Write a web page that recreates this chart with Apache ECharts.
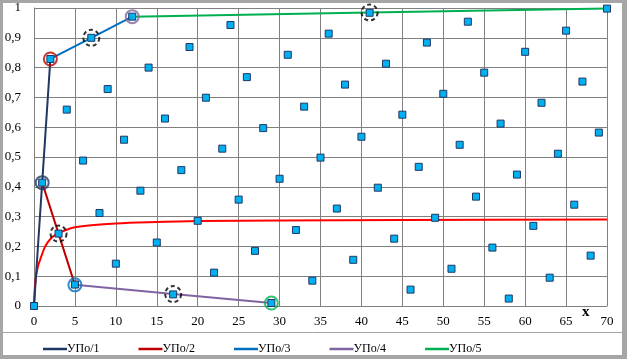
<!DOCTYPE html>
<html>
<head>
<meta charset="utf-8">
<script src="https://cdn.jsdelivr.net/npm/echarts@6/dist/echarts.min.js"></script>
<style>
html,body{margin:0;padding:0;background:#fff;}
#c{width:627px;height:359px;}
</style>
</head>
<body>
<div id="c"></div>
<script>
// Scatter points (x, y)
const pointX = [0,1,2,3,4,5,6,7,8,9,10,11,12,13,14,15,16,17,18,19,20,21,22,23,24,25,26,27,28,29,30,31,32,33,34,35,36,37,38,39,40,41,42,43,44,45,46,47,48,49,50,51,52,53,54,55,56,57,58,59,60,61,62,63,64,65,66,67,68,69,70];
const pointY = [0,0.414,0.829,0.243,0.659,0.072,0.488,0.900,0.312,0.728,0.142,0.558,0.971,0.387,0.800,0.213,0.629,0.039,0.456,0.869,0.286,0.699,0.112,0.528,0.943,0.357,0.768,0.185,0.597,0.010,0.427,0.843,0.255,0.669,0.085,0.498,0.914,0.327,0.743,0.155,0.568,0.984,0.397,0.813,0.226,0.642,0.055,0.467,0.884,0.296,0.712,0.125,0.541,0.954,0.367,0.783,0.196,0.612,0.025,0.441,0.853,0.269,0.682,0.095,0.511,0.924,0.340,0.753,0.169,0.582,0.998];

// Polyline series
const upo1X = [0,1,2],   upo1Y = [0,0.414,0.829];
const upo2X = [1,3,5],   upo2Y = [0.414,0.243,0.071];
const upo3X = [2,7,12],  upo3Y = [0.829,0.900,0.971];
const upo4X = [5,17,29], upo4Y = [0.071,0.040,0.010];
const upo5X = [12,41,70],upo5Y = [0.971,0.985,0.998];

// Red curve
const curveX = [0,0.1,0.25,0.5,0.75,1,1.35,2,3,4,5,7,10,14,20,30,45,70];
const curveY = [0,0.06,0.10,0.135,0.155,0.175,0.199,0.225,0.245,0.256,0.264,0.271,0.277,0.281,0.285,0.287,0.289,0.290];

// Highlight circles
const solidRingX = [1,2,5,12,29];
const solidRingY = [0.414,0.829,0.071,0.971,0.010];
const solidRingColors = ['#1f3864','#c00000','#0070c0','#8064a2','#00b050'];
const dashedRingX = [3,7,17,41];
const dashedRingY = [0.243,0.900,0.040,0.985];

// Axis ticks
const xTicks = [0,5,10,15,20,25,30,35,40,45,50,55,60,65,70];
const yTicks = [0,0.1,0.2,0.3,0.4,0.5,0.6,0.7,0.8,0.9,1];

const seriesNames = ['УПо/1','УПо/2','УПо/3','УПо/4','УПо/5'];
const seriesColors = ['#1f3864','#c00000','#0070c0','#8064a2','#00b050'];

const zip = (a,b) => a.map((v,i)=>[v,b[i]]);
const FONT = 'Liberation Serif';

const chart = echarts.init(document.getElementById('c'), null, {renderer:'canvas'});

const lineSeries = [
  [upo1X,upo1Y],[upo2X,upo2Y],[upo3X,upo3Y],[upo4X,upo4Y],[upo5X,upo5Y]
].map((d,i)=>({
  name: seriesNames[i], type:'line', data: zip(d[0],d[1]),
  symbol:'none', lineStyle:{color:seriesColors[i], width:2}, itemStyle:{color:seriesColors[i]},
  z:3, silent:true
}));

const option = {
  animation:false,
  backgroundColor:'#ffffff',
  grid:{left:34, right:20, top:8, bottom:53},
  xAxis:{
    type:'value', min:0, max:70, interval:5,
    axisLine:{show:true, onZero:false, lineStyle:{color:'#808080', width:1}},
    axisTick:{show:false},
    splitLine:{show:true, lineStyle:{color:'#808080', width:1}},
    axisLabel:{color:'#000', fontFamily:FONT, fontSize:13, margin:9}
  },
  yAxis:{
    type:'value', min:0, max:1, interval:0.1,
    axisLine:{show:true, lineStyle:{color:'#808080', width:1}},
    axisTick:{show:false},
    splitLine:{show:true, lineStyle:{color:'#808080', width:1}},
    axisLabel:{color:'#000', fontFamily:FONT, fontSize:13, margin:13,
      formatter: v => (v===0?'0':(v===1?'1':v.toFixed(1).replace('.',',')))}
  },
  legend:{
    data: seriesNames, left:38, top:338, icon:'rect', itemWidth:24, itemHeight:2.5,
    itemGap:39, textStyle:{color:'#000', fontFamily:FONT, fontSize:12, padding:[0,0,0,-5]}
  },
  graphic:[
    {type:'rect', shape:{x:0,y:0,width:627,height:3}, style:{fill:'#a6a6a6'}, silent:true, z:100},
    {type:'rect', shape:{x:0,y:0,width:3,height:359}, style:{fill:'#a6a6a6'}, silent:true, z:100},
    {type:'rect', shape:{x:622,y:0,width:5,height:359}, style:{fill:'#a6a6a6'}, silent:true, z:100},
    {type:'rect', shape:{x:0,y:355,width:627,height:4}, style:{fill:'#a6a6a6'}, silent:true, z:100},
    {type:'line', shape:{x1:3,y1:332.5,x2:622,y2:332.5}, style:{stroke:'#a6a6a6', lineWidth:1}, silent:true, z:100},
    {type:'text', left:582, top:305, style:{text:'x', fontFamily:FONT, fontWeight:'bold', fontSize:15, fill:'#000'}, silent:true, z:100}
  ],
  series:[
    {name:'curve', type:'line', data: zip(curveX,curveY), symbol:'none', smooth:0.3,
      lineStyle:{color:'#ff0000', width:2}, z:2, silent:true},
    ...lineSeries,
    ...solidRingX.map((x,i)=>({
      name:'ring'+i, type:'scatter', data:[[x, solidRingY[i]]], symbol:'circle', symbolSize:13,
      itemStyle:{color:'rgba(0,0,0,0)', borderColor:solidRingColors[i], borderWidth:2}, z:4, silent:true
    })),
    {name:'dashedRings', type:'scatter', data: zip(dashedRingX,dashedRingY), symbol:'circle', symbolSize:16,
      itemStyle:{color:'rgba(0,0,0,0)', borderColor:'#000', borderWidth:2, borderType:[4,3]}, z:4, silent:true},
    {name:'points', type:'scatter', data: zip(pointX,pointY), symbol:'rect', symbolSize:7,
      itemStyle:{color:'#00b0f0', borderColor:'#1f3864', borderWidth:1, opacity:1}, z:5, silent:true}
  ]
};
chart.setOption(option);
</script>
</body>
</html>
